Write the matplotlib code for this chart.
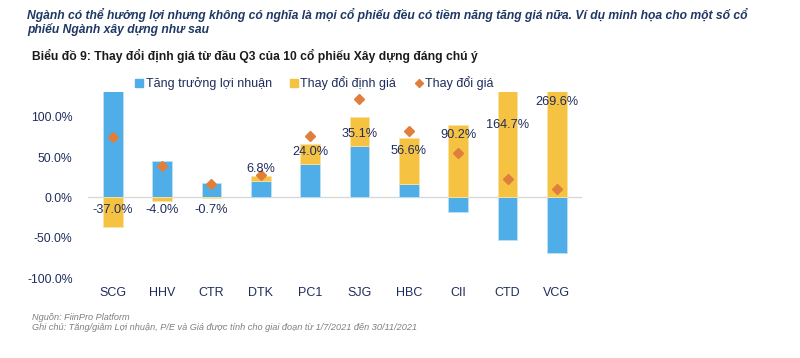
import matplotlib
matplotlib.use("Agg")
import matplotlib.pyplot as plt
from matplotlib.lines import Line2D
import numpy as np

categories = ["SCG", "HHV", "CTR", "DTK", "PC1", "SJG", "HBC", "CII", "CTD", "VCG"]
profit_growth = [140.0, 45.0, 18.5, 20.0, 42.0, 64.0, 17.0, -18.0, -53.0, -69.0]
valuation_change = [-37.0, -4.0, -0.7, 6.8, 24.0, 35.1, 56.6, 90.2, 164.7, 269.6]
price_change = [75.0, 39.0, 17.0, 28.0, 76.0, 122.0, 82.0, 55.0, 23.0, 11.0]
yticks = [-100, -50, 0, 50, 100]

# layout: where each valuation label sits (data units)
label_y = [-15.5, -15.5, -15.5, 35.0, 56.5, 79.0, 57.0, 77.0, 90.0, 118.0]

BLUE = "#4FADE8"
YELLOW = "#F6C242"
ORANGE = "#E07E3C"
NAVY = "#1F2D5C"
TITLE = "#1F3864"

plt.rcParams["font.family"] = ["Liberation Sans", "DejaVu Sans"]

fig = plt.figure(figsize=(8.0, 3.58), dpi=100)
ax = fig.add_axes([0.11, 0.2226, 0.617, 0.5194])

x = np.arange(len(categories))
pg = np.array(profit_growth)
vc = np.array(valuation_change)
bottom = np.where(np.sign(pg) == np.sign(vc), pg, 0.0)

w = 0.4
ax.bar(x, pg, width=w, color=BLUE, edgecolor="#BFE0F5", linewidth=0.6, zorder=2)
ax.bar(x, vc, width=w, bottom=bottom, color=YELLOW, edgecolor="#FBE3A6", linewidth=0.6, zorder=2)
ax.plot(x, price_change, linestyle="none", marker="D", markersize=5.5,
        color=ORANGE, markeredgecolor=ORANGE, zorder=4)

for xi, v, ly in zip(x, valuation_change, label_y):
    ax.text(xi, ly, f"{v:.1f}%", ha="center", va="center", fontsize=9.2,
            color=NAVY, zorder=5)

ax.axhline(0, color="#D9D9D9", linewidth=1.0, zorder=1)
ax.set_xlim(-0.5, len(categories) - 0.5)
ax.set_ylim(-100, 130)
ax.set_yticks(yticks)
ax.set_yticklabels([f"{t:.1f}%" for t in yticks], fontsize=8.8, color=NAVY)
ax.set_xticks(x)
ax.set_xticklabels(categories, fontsize=9, color=NAVY,
                   family=["Liberation Sans Narrow", "Liberation Sans", "DejaVu Sans"])
ax.tick_params(axis="both", length=0)
ax.tick_params(axis="x", pad=6)
ax.tick_params(axis="y", pad=11)
for s in ax.spines.values():
    s.set_visible(False)

handles = [
    Line2D([], [], linestyle="none", marker="s", markersize=5.5, color=BLUE),
    Line2D([], [], linestyle="none", marker="s", markersize=5.5, color=YELLOW),
    Line2D([], [], linestyle="none", marker="D", markersize=4.2, color=ORANGE),
]
labels = ["Tăng trưởng lợi nhuận", "Thay đổi định giá", "Thay đổi giá"]
fig.legend(handles, labels, loc="center", bbox_to_anchor=(314 / 800, 1 - 83 / 358),
           ncol=3, frameon=False, fontsize=9, handletextpad=0.1, columnspacing=1.4,
           handlelength=0.8, labelcolor=NAVY)

fig.text(27 / 800, 1 - 15 / 358,
         "Ngành có thể hưởng lợi nhưng không có nghĩa là mọi cổ phiếu đều có tiềm năng tăng giá nữa. Ví dụ minh họa cho một số cổ",
         fontsize=8.7, fontweight="bold", fontstyle="italic", color=TITLE, va="center", ha="left")
fig.text(27 / 800, 1 - 29.5 / 358, "phiếu Ngành xây dựng như sau",
         fontsize=8.7, fontweight="bold", fontstyle="italic", color=TITLE, va="center", ha="left")
fig.text(32 / 800, 1 - 56 / 358,
         "Biểu đồ 9: Thay đổi định giá từ đầu Q3 của 10 cổ phiếu Xây dựng đáng chú ý",
         fontsize=8.7, fontweight="bold", color="#1A1A1A", va="center", ha="left",
         family=["Liberation Sans Narrow", "Liberation Sans", "DejaVu Sans"])
fig.text(32 / 800, 1 - 317 / 358, "Nguồn: FiinPro Platform",
         fontsize=6.6, fontstyle="italic", color="#7F7F7F", va="center", ha="left")
fig.text(32 / 800, 1 - 327.5 / 358,
         "Ghi chú: Tăng/giảm Lợi nhuận, P/E và Giá được tính cho giai đoạn từ 1/7/2021 đến 30/11/2021",
         fontsize=6.6, fontstyle="italic", color="#7F7F7F", va="center", ha="left")

fig.savefig("out.png", dpi=100)
